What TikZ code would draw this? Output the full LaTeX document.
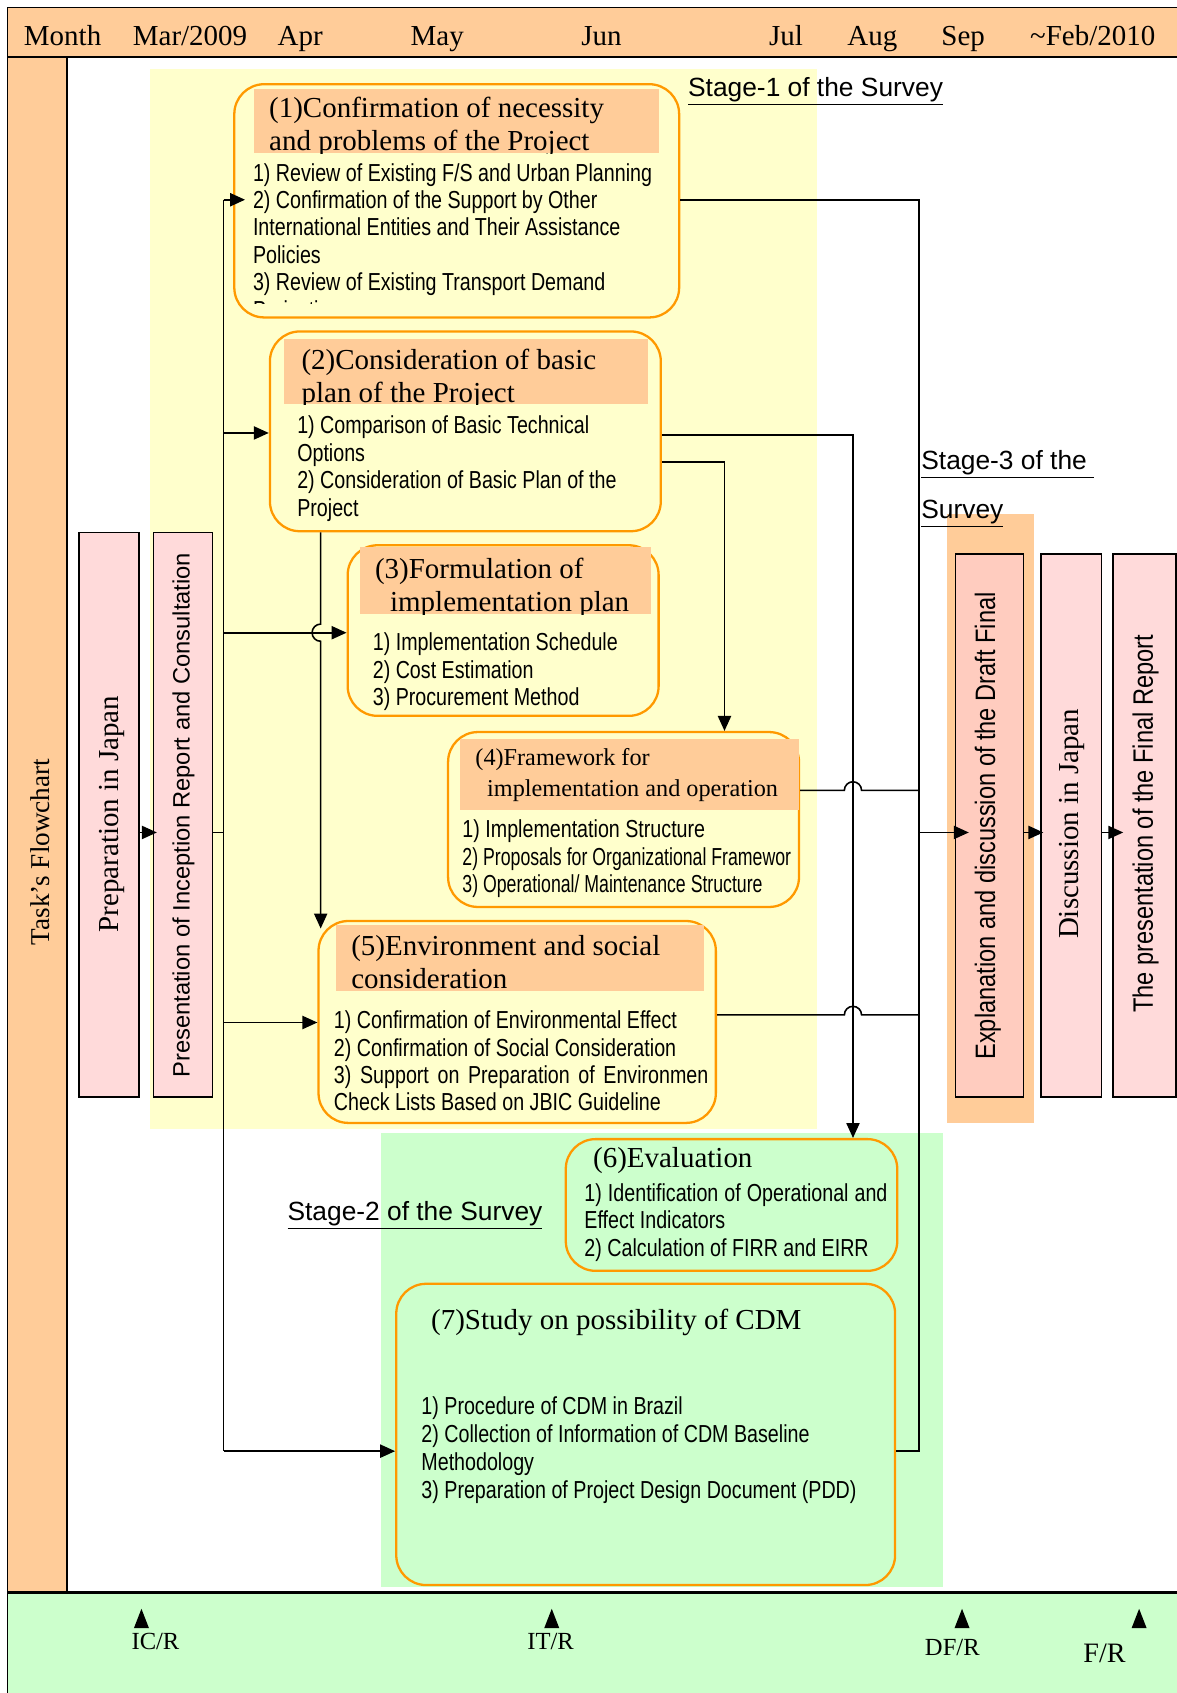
\documentclass[tikz,border=0pt]{standalone}
\usepackage{fontspec}
\setmainfont{Liberation Serif}
\setsansfont{Liberation Sans}
\newfontfamily\narrowfont[FakeStretch=0.80]{Liberation Sans}
\newfontfamily\vnarrowfont[FakeStretch=0.84]{Liberation Sans}
\newfontfamily\squeezefont[FakeStretch=0.72]{Liberation Sans}
\usetikzlibrary{arrows.meta,fit,calc}

\definecolor{hdrorange}{HTML}{FFCC99}
\definecolor{boxorange}{HTML}{FF9900}
\definecolor{stageyellow}{HTML}{FFFFCC}
\definecolor{stagegreen}{HTML}{CCFFCC}
\definecolor{pinkbox}{HTML}{FFDADA}
\definecolor{salmonbox}{HTML}{FFCCBF}

\newcommand{\titlefont}{\rmfamily\fontsize{16.5}{18.7}\selectfont}
\newcommand{\itemfont}{\narrowfont\fontsize{14}{15.6}\selectfont}
\newcommand{\stagefont}{\sffamily\fontsize{15}{18}\selectfont}

\begin{document}
\begin{tikzpicture}
	% Styles
	[
	x=0.0216cm, y=-0.0216cm,
	task/.style={draw=boxorange, line width=1.3pt, rounded corners=17pt, inner sep=0pt},
	hdr/.style={fill=hdrorange, inner sep=0pt},
	title/.style={anchor=north west, inner sep=0pt, align=left, font=\titlefont},
	items/.style={anchor=north west, inner sep=0pt, align=left, font=\itemfont},
	vbox/.style={draw, line width=0.9pt, fill=pinkbox, inner sep=0pt},
	vtext/.style={rotate=90, inner sep=0pt},
	month/.style={anchor=base, inner sep=0pt, font=\titlefont},
	rlabel/.style={anchor=base, inner sep=0pt, font=\rmfamily\fontsize{14}{16}\selectfont},
	stage/.style={anchor=base west, inner sep=0pt, font=\stagefont},
	conn/.style={line width=0.9pt},
	arr/.style={conn, -{Triangle[length=8.5pt,width=7.5pt]}},
	]

	% Frame
	\path[use as bounding box, fill=white] (0,0) rectangle (1090,1568);
	\fill[hdrorange] (7,7) rectangle (1090,53);
	\fill[hdrorange] (7,53) rectangle (62,1475);
	\fill[stagegreen] (7,1475) rectangle (1090,1568);
	\fill[stageyellow] (139,64) rectangle (757,1046);
	\fill[stagegreen] (353,1049) rectangle (873,1470);
	\fill[hdrorange] (877,476) rectangle (958,1040);
	\draw[line width=1pt] (1090,7) -- (7,7) -- (7,1568);
	\draw[line width=1pt] (7,53) -- (1090,53);
	\draw[line width=1pt] (62,53) -- (62,1475);
	\draw[line width=1.6pt] (7,1475) -- (1090,1475);

	% Months
	\node at (58,42)	(m0)	[month] {Month};
	\node at (176,42)	(m1)	[month] {Mar/2009};
	\node at (278,42)	(m2)	[month] {Apr};
	\node at (405,42)	(m3)	[month] {May};
	\node at (557,42)	(m4)	[month] {Jun};
	\node at (728,42)	(m5)	[month] {Jul};
	\node at (808,42)	(m6)	[month] {Aug};
	\node at (892,42)	(m7)	[month] {Sep};
	\node at (1012,42)	(m8)	[month] {\textasciitilde Feb/2010};
	\node at (37,789)	(flow)	[vtext, font=\rmfamily\fontsize{15.5}{18}\selectfont] {Task’s Flowchart};

	% Stages
	\node at (637,89)	(st1)	[stage] {\underline{Stage-1 of the Survey}};
	\node at (266,1130)	(st2)	[stage] {\underline{Stage-2 of the Survey}};
	\node at (853,435)	(st3a)	[stage] {\underline{Stage-3 of the\ }};
	\node at (853,480)	(st3b)	[stage] {\underline{Survey}};

	% Vertical boxes
	\node (prep)	[vbox, fit={(73,493) (129,1016)}] {};
	\node (pres)	[vbox, fit={(142,493) (197,1016)}] {};
	\node (expl)	[vbox, fill=salmonbox, fit={(885,513) (948,1016)}] {};
	\node (disc)	[vbox, fit={(964,513) (1020,1016)}] {};
	\node (fin)	[vbox, fit={(1031,513) (1089,1016)}] {};
	\node at (104,754)	(prept)	[vtext, font=\rmfamily\fontsize{16.5}{18}\selectfont] {Preparation in Japan};
	\node at (170,755)	(prest)	[vtext, font=\sffamily\fontsize{13.5}{16}\selectfont] {Presentation of Inception Report and Consultation};
	\node at (915,765)	(explt)	[vtext, font=\vnarrowfont\fontsize{16}{18}\selectfont] {Explanation and discussion of the Draft Final};
	\node at (993,763)	(disct)	[vtext, font=\rmfamily\fontsize{16.5}{18}\selectfont] {Discussion in Japan};
	\node at (1061,763)	(fint)	[vtext, font=\vnarrowfont\fontsize{16}{18}\selectfont] {The presentation of the Final Report};

	% Task boxes
	\node (b1)	[task, fit={(217,78) (629,294)}] {};
	\node (h1)	[hdr, fit={(235,82) (610,142)}] {};
	\begin{scope}
		\clip (h1.south west) rectangle (h1.north east);
		\node at (249,90)	(t1)	[title] {(1)Confirmation of necessity\\and problems of the Project};
	\end{scope}
	\begin{scope}
		\clip (220,145) rectangle (626,281);
		\node at (234,151)	(i1)	[items] {1) Review of Existing F/S and Urban Planning\\2) Confirmation of the Support by Other\\International Entities and Their Assistance\\Policies\\3) Review of Existing Transport Demand\\Projection};
	\end{scope}

	\node (b2)	[task, fit={(250,307) (612,492)}] {};
	\node (h2)	[hdr, fit={(263,314) (600,374)}] {};
	\begin{scope}
		\clip (h2.south west) rectangle (h2.north east);
		\node at (279,323)	(t2)	[title] {(2)Consideration of basic\\plan of the Project};
	\end{scope}
	\node at (275,385)	(i2)	[items] {1) Comparison of Basic Technical\\Options\\2) Consideration of Basic Plan of the\\Project};

	\node (b3)	[task, fit={(322,505) (610,663)}] {};
	\node (h3)	[hdr, fit={(333,507) (603,569)}] {};
	\begin{scope}
		\clip (h3.south west) rectangle (h3.north east);
		\node at (347,517)	(t3)	[title] {(3)Formulation of\\\hspace*{8.6pt}implementation plan};
	\end{scope}
	\node at (345,586)	(i3)	[items] {1) Implementation Schedule\\2) Cost Estimation\\3) Procurement Method};

	\node (b4)	[task, fit={(415,678) (740,840)}] {};
	\node (h4)	[hdr, fit={(426,684) (740,750)}] {};
	\node at (440,693)	(t4)	[title, font=\rmfamily\fontsize{13.8}{17.8}\selectfont] {(4)Framework for\\\hspace*{6.7pt}implementation and operation};
	\node at (428,759)	(i4)	[items] {1) Implementation Structure\\{\squeezefont 2) Proposals for Organizational Framewor}\\{\squeezefont 3) Operational/ Maintenance Structure}};

	\node (b5)	[task, fit={(295,853) (663,1040)}] {};
	\node (h5)	[hdr, fit={(311,857) (652,918)}] {};
	\node at (325,866)	(t5)	[title] {(5)Environment and social\\consideration};
	\begin{scope}
		\clip (298,925) rectangle (655,1036);
		\node at (309,936)	(i5)	[items] {1) Confirmation of Environmental Effect\\2) Confirmation of Social Consideration\\\makebox[225pt][s]{3) Support on Preparation of Environmental}\\Check Lists Based on JBIC Guideline};
	\end{scope}

	\node (b6)	[task, fit={(524,1055) (831,1177)}] {};
	\node at (549,1062)	(t6)	[title] {(6)Evaluation};
	\node at (541,1096)	(i6)	[items] {\makebox[172.5pt][s]{1) Identification of Operational and}\\Effect Indicators\\2) Calculation of FIRR and EIRR};

	\node (b7)	[task, fit={(367,1189) (829,1468)}] {};
	\node at (399,1212)	(t7)	[title] {(7)Study on possibility of CDM};
	\node at (390,1293)	(i7)	[items, font=\narrowfont\fontsize{14}{15.9}\selectfont] {1) Procedure of CDM in Brazil\\2) Collection of Information of CDM Baseline\\Methodology\\3) Preparation of Project Design Document (PDD)};

	% Report marks
	\fill (131,1490) -- (124,1508) -- (138,1508) -- cycle;
	\fill (511,1490) -- (504,1508) -- (518,1508) -- cycle;
	\fill (891,1490) -- (884,1508) -- (898,1508) -- cycle;
	\fill (1055,1490) -- (1048,1508) -- (1062,1508) -- cycle;
	\node at (144,1528)	(icr)	[rlabel] {IC/R};
	\node at (510,1528)	(itr)	[rlabel] {IT/R};
	\node at (882,1533)	(dfr)	[rlabel] {DF/R};
	\node at (1023,1540)	(fr)	[rlabel, font=\rmfamily\fontsize{16}{18}\selectfont] {F/R};

	% Connections
	\coordinate (busT) at (207,185);
	\coordinate (busB) at (207,1344);
	\coordinate (rbT) at (851,185);
	\coordinate (rbB) at (851,1344);

	\draw[arr] (prep.east |- 0,771) -- ($(pres.west |- 0,771)+(4,0)$);
	\draw[conn] (pres.east |- 0,771) -- (busT |- 0,771);
	\draw[conn] (busT) -- (busB);
	\draw[arr] (busT) -- ($(b1.west |- busT)+(11,0)$);
	\draw[arr] (busT |- 0,401) -- (b2.west |- 0,401);
	\draw[arr] (busT |- 0,586) -- (b3.west |- 0,586);
	\draw[arr] (busT |- 0,947) -- (b5.west |- 0,947);
	\draw[arr] (busB) -- (b7.west |- busB);
	\draw[arr] (b2.south -| 297,0) -- (297,578) arc[start angle=90, end angle=270, radius=4.9pt] -- ($(b5.north -| 297,0)+(0,8)$);

	\draw[arr] (b2.east |- 0,403) -| (b6.north -| 790,0);
	\draw[arr] (b2.east |- 0,428) -| (b4.north -| 671,0);
	\draw[conn] (b1.east |- busT) -- (rbT) -- (rbB) -- (b7.east |- rbB);
	\draw[conn] (b4.east |- 0,732) -- (782,732) arc[start angle=180, end angle=0, radius=4.9pt] -- (rbT |- 0,732);
	\draw[conn] (b5.east |- 0,940) -- (782,940) arc[start angle=180, end angle=0, radius=4.9pt] -- (rbT |- 0,940);
	\draw[arr] (rbT |- 0,771) -- ($(expl.west |- 0,771)+(13,0)$);
	\draw[arr] (expl.east |- 0,771) -- ($(disc.west |- 0,771)+(3,0)$);
	\draw[arr] (disc.east |- 0,771) -- ($(fin.west |- 0,771)+(10,0)$);

\end{tikzpicture}
\end{document}
